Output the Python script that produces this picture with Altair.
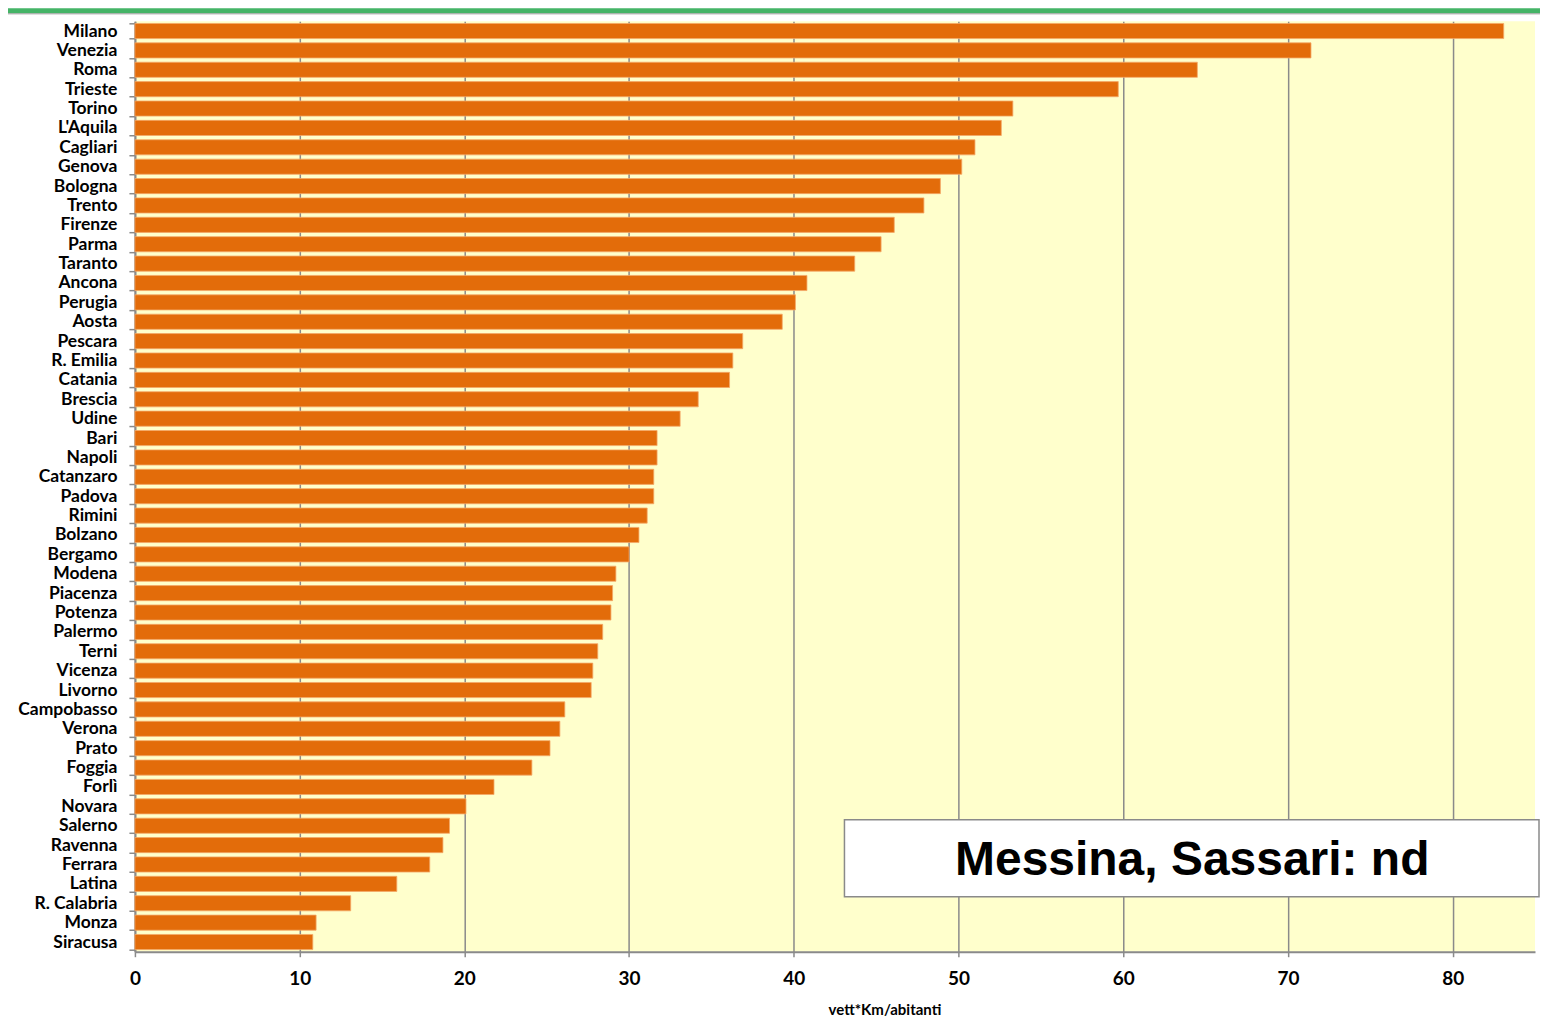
import altair as alt
import pandas as pd

cities = ["Milano", "Venezia", "Roma", "Trieste", "Torino", "L'Aquila", "Cagliari", "Genova",
          "Bologna", "Trento", "Firenze", "Parma", "Taranto", "Ancona", "Perugia", "Aosta",
          "Pescara", "R. Emilia", "Catania", "Brescia", "Udine", "Bari", "Napoli", "Catanzaro",
          "Padova", "Rimini", "Bolzano", "Bergamo", "Modena", "Piacenza", "Potenza", "Palermo",
          "Terni", "Vicenza", "Livorno", "Campobasso", "Verona", "Prato", "Foggia", "Forlì",
          "Novara", "Salerno", "Ravenna", "Ferrara", "Latina", "R. Calabria", "Monza", "Siracusa"]
values = [83.1, 71.4, 64.5, 59.7, 53.3, 52.6, 51.0, 50.2,
          48.9, 47.9, 46.1, 45.3, 43.7, 40.8, 40.1, 39.3,
          36.9, 36.3, 36.1, 34.2, 33.1, 31.7, 31.7, 31.5,
          31.5, 31.1, 30.6, 30.0, 29.2, 29.0, 28.9, 28.4,
          28.1, 27.8, 27.7, 26.1, 25.8, 25.2, 24.1, 21.8,
          20.1, 19.1, 18.7, 17.9, 15.9, 13.1, 11.0, 10.8]
x_ticks = [0, 10, 20, 30, 40, 50, 60, 70, 80]
x_title = "vett*Km/abitanti"
note = "Messina, Sassari: nd"

df = pd.DataFrame({"city": cities, "value": values})
one = pd.DataFrame({"k": [0]})

W, H = 1401, 931
LABEL_FONT = "Lato"

bars = alt.Chart(df).mark_bar(color="#e36c0a", stroke="#f4a868", strokeWidth=0.8).encode(
    x=alt.X("value:Q", scale=alt.Scale(domain=[0, 85], nice=False),
            axis=alt.Axis(values=x_ticks, title=x_title, grid=True, gridColor="#8a8a8a",
                          gridWidth=1.5, domainColor="#8a8a8a", domainWidth=2,
                          tickColor="#8a8a8a", tickSize=5, tickWidth=1.5,
                          labelFont=LABEL_FONT, labelFontWeight="bold", labelFontSize=19,
                          labelColor="black", labelPadding=13, labelFlush=False,
                          titleFont=LABEL_FONT, titleFontWeight="bold", titleFontSize=15,
                          titleColor="black", titleX=750, titleY=58, titleBaseline="middle",
                          titleAnchor="middle", titleAlign="center")),
    y=alt.Y("city:N", sort=cities, scale=alt.Scale(paddingInner=0.22, paddingOuter=0.11),
            axis=alt.Axis(title=None, tickBand="extent", tickSize=6, tickColor="#8a8a8a",
                          tickWidth=1.5, domainColor="#8a8a8a", domainWidth=2,
                          labelFont=LABEL_FONT, labelFontWeight="bold", labelFontSize=17.5,
                          labelColor="black", labelPadding=12, labelLimit=200)),
)

box = alt.Chart(one).mark_rect(fill="white", stroke="#8a8a8a", strokeWidth=1.5).encode(
    x=alt.value(710), x2=alt.value(1405), y=alt.value(799), y2=alt.value(876)
)
txt = alt.Chart(one).mark_text(text=note, font="Liberation Sans Narrow, Liberation Sans, Arial",
                               fontWeight="bold", fontSize=48, color="black",
                               align="center", baseline="middle").encode(
    x=alt.value(1058), y=alt.value(840)
)
strip = alt.Chart(one).mark_rect(fill="#45b467").encode(
    x=alt.value(-127), x2=alt.value(1413), y=alt.value(-13), y2=alt.value(-8)
)
strip_line = alt.Chart(one).mark_rule(color="#9a9a9a", strokeWidth=1).encode(
    x=alt.value(-127), x2=alt.value(1413), y=alt.value(-7.5)
)

chart = alt.layer(bars, box, txt, strip, strip_line).properties(
    width=W, height=H,
    autosize=alt.AutoSizeParams(type="none"),
    padding={"left": 127, "top": 13, "right": 5, "bottom": 67},
    background="white",
).configure_view(fill="#ffffcc", stroke=None)

chart.save("out.html", embed_options={"renderer": "svg", "actions": False})
